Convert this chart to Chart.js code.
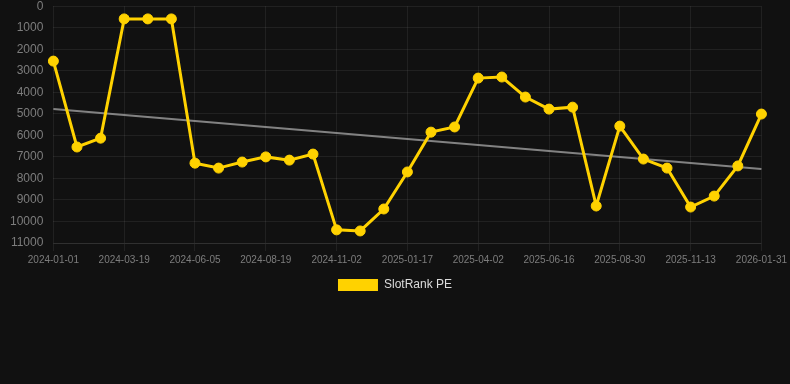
<!DOCTYPE html>
<html>
<head>
<meta charset="utf-8">
<script src="https://cdn.jsdelivr.net/npm/chart.js@4/dist/chart.umd.min.js"></script>
<style>
    html, body { margin: 0; padding: 0; background: #111111; overflow: hidden; }
    #wrap { position: relative; width: 790px; height: 312px; margin-top: -11px; }
</style>
</head>
<body>
<div id="wrap"><canvas id="rank-canvas"></canvas></div>
<script>
// x categories (every third one is shown on the axis)
const dates = [
    '2024-01-01', '2024-01-27', '2024-02-22', '2024-03-19', '2024-04-14', '2024-05-10',
    '2024-06-05', '2024-06-30', '2024-07-25', '2024-08-19', '2024-09-13', '2024-10-08',
    '2024-11-02', '2024-11-27', '2024-12-23', '2025-01-17', '2025-02-11', '2025-03-08',
    '2025-04-02', '2025-04-27', '2025-05-22', '2025-06-16', '2025-07-11', '2025-08-05',
    '2025-08-30', '2025-09-24', '2025-10-19', '2025-11-13', '2025-12-09', '2026-01-05',
    '2026-01-31'
];

// rank values
const rankPE = [
    2550, 6540, 6130, 590, 590, 590,
    7290, 7520, 7240, 7000, 7150, 6870,
    10390, 10440, 9420, 7700, 5850, 5610,
    3340, 3290, 4220, 4780, 4690, 9280,
    5570, 7100, 7520, 9330, 8820, 7420,
    5010
];

// trend line end points
const trendStart = 4780;
const trendEnd = 7560;

const yTicks = { min: 0, max: 11000, step: 1000 };

const colors = {
    line: 'rgb(255, 210, 0)',
    trend: 'rgba(150, 150, 150, 0.85)',
    grid: 'rgba(255, 255, 255, 0.07)',
    tick: 'rgb(125, 125, 125)',
    legend: 'rgb(220, 220, 220)'
};

const trendData = dates.map((d, i) => {
    if (i === 0) return trendStart;
    if (i === dates.length - 1) return trendEnd;
    return null;
});

Chart.defaults.font.family = 'Arial, "Liberation Sans", Helvetica, sans-serif';

const ctx = document.getElementById('rank-canvas').getContext('2d');
new Chart(ctx, {
    type: 'line',
    data: {
        labels: dates,
        datasets: [
            {
                label: 'SlotRank PE',
                data: rankPE,
                borderColor: colors.line,
                backgroundColor: colors.line,
                borderWidth: 3,
                pointRadius: 5,
                pointBackgroundColor: colors.line,
                pointBorderColor: colors.line,
                pointBorderWidth: 1,
                tension: 0
            },
            {
                label: 'trend',
                data: trendData,
                borderColor: colors.trend,
                borderWidth: 2,
                pointRadius: 0,
                spanGaps: true,
                tension: 0
            }
        ]
    },
    options: {
        responsive: true,
        maintainAspectRatio: false,
        animation: false,
        layout: { padding: { right: 0 } },
        plugins: {
            legend: {
                position: 'bottom',
                labels: {
                    color: colors.legend,
                    font: { size: 12 },
                    boxWidth: 40,
                    boxHeight: 12,
                    generateLabels: (chart) =>
                        Chart.defaults.plugins.legend.labels.generateLabels(chart)
                            .filter(item => item.datasetIndex === 0)
                            .map(item => ({ ...item, lineWidth: 0 }))
                }
            },
            tooltip: { enabled: false }
        },
        scales: {
            x: {
                grid: {
                    color: (c) => (c.index % 3 === 0 ? colors.grid : 'transparent'),
                    tickLength: 8
                },
                border: { color: colors.grid },
                ticks: {
                    color: colors.tick,
                    font: { size: 10 },
                    autoSkip: false,
                    maxRotation: 0,
                    callback: function (val, index) {
                        return index % 3 === 0 ? this.getLabelForValue(val) : '';
                    }
                }
            },
            y: {
                reverse: true,
                min: yTicks.min,
                max: yTicks.max,
                grid: { color: colors.grid, drawTicks: false },
                border: { display: false },
                ticks: {
                    color: colors.tick,
                    font: { size: 12 },
                    stepSize: yTicks.step,
                    padding: 10,
                    callback: (v) => String(v)
                }
            }
        }
    }
});
</script>
</body>
</html>
